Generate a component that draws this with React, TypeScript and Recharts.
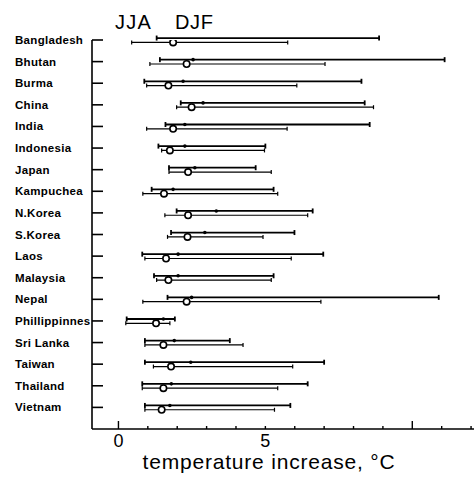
import React from 'react';
import { ScatterChart, Scatter, XAxis, YAxis, ErrorBar } from 'recharts';

const countries = [
  'Bangladesh', 'Bhutan', 'Burma', 'China', 'India', 'Indonesia', 'Japan', 'Kampuchea', 'N.Korea',
  'S.Korea', 'Laos', 'Malaysia', 'Nepal', 'Phillippinnes', 'Sri Lanka', 'Taiwan', 'Thailand', 'Vietnam',
];

// JJA: range and central estimate (upper line of each row)
const jjaLow = [1.3, 1.41, 0.88, 2.12, 1.6, 1.36, 1.72, 1.13, 1.98, 1.79, 0.81, 1.21, 1.67, 0.28, 0.9, 0.9, 0.81, 0.9];
const jjaHigh = [8.87, 11.1, 8.27, 8.38, 8.55, 5.0, 4.67, 5.28, 6.61, 5.99, 6.97, 5.28, 10.9, 1.92, 3.79, 7.0, 6.44, 5.85];
const jjaMid = [2.43, 2.54, 2.2, 2.88, 2.26, 2.26, 2.6, 1.86, 3.33, 2.94, 2.03, 2.03, 2.49, 1.53, 1.9, 2.46, 1.8, 1.75];

// DJF: range and central estimate (lower line, open circle)
const djfLow = [0.45, 1.07, 0.96, 1.98, 0.96, 1.47, 1.72, 0.83, 1.58, 1.67, 0.9, 1.3, 0.83, 0.25, 0.9, 1.19, 0.81, 0.9];
const djfHigh = [5.76, 7.03, 6.07, 8.68, 5.74, 4.97, 5.2, 5.42, 6.44, 4.92, 5.88, 5.2, 6.89, 1.75, 4.24, 5.93, 5.42, 5.31];
const djfMid = [1.86, 2.32, 1.7, 2.49, 1.86, 1.75, 2.37, 1.55, 2.37, 2.35, 1.62, 1.7, 2.32, 1.28, 1.53, 1.79, 1.53, 1.47];

const xTicks = [0, 1, 2, 3, 4, 5, 6, 7, 8, 9, 10, 11, 12];
const xLabelled = [0, 5];
const xMajor = [0, 10];

const FONT = '"Liberation Sans", Arial, sans-serif';

const jjaData = countries.map((name, i) => ({
  name,
  x: jjaMid[i],
  y: i - 0.09,
  err: [jjaMid[i] - jjaLow[i], jjaHigh[i] - jjaMid[i]],
}));

const djfData = countries.map((name, i) => ({
  name,
  x: djfMid[i],
  y: i + 0.11,
  err: [djfMid[i] - djfLow[i], djfHigh[i] - djfMid[i]],
}));

const YTick = (props: any) => {
  const { x, y, payload } = props;
  return (
    <g>
      <line x1={x} x2={x + 11} y1={y} y2={y} stroke="#000" strokeWidth={1.6} />
      <text x={x - 77} y={y} dy="0.35em" fontFamily={FONT} fontWeight={700} fontSize={11.5} letterSpacing={0.3} fill="#000">
        {countries[payload.value]}
      </text>
    </g>
  );
};

const XTick = (props: any) => {
  const { x, y, payload } = props;
  const v = payload.value;
  const len = xMajor.includes(v) ? 8 : 3;
  return (
    <g>
      <line x1={x} x2={x} y1={y} y2={y - len} stroke="#000" strokeWidth={1.4} />
      {xLabelled.includes(v) && (
        <text x={x} y={y + 18} textAnchor="middle" fontFamily={FONT} fontSize={18} fill="#000">
          {v}
        </text>
      )}
    </g>
  );
};

const SmallDot = (props: any) => <circle cx={props.cx} cy={props.cy} r={1.8} fill="#000" />;
const OpenCircle = (props: any) => (
  <circle cx={props.cx} cy={props.cy} r={3.2} fill="#fff" stroke="#000" strokeWidth={1.6} />
);

export default function App() {
  return (
    <div style={{ position: 'absolute', left: 0, top: 0, width: 474, height: 477, background: '#fff' }}>
      <ScatterChart width={474} height={477} margin={{ top: 40, right: 0, bottom: 0, left: 0 }}>
        <XAxis
          type="number"
          dataKey="x"
          domain={[-0.9, 12.1]}
          allowDataOverflow
          ticks={xTicks}
          interval={0}
          height={48}
          tickSize={0}
          tickMargin={0}
          tickLine={false}
          axisLine={{ stroke: '#000', strokeWidth: 1.6 }}
          tick={<XTick />}
        />
        <YAxis
          type="number"
          dataKey="y"
          domain={[0, 18]}
          reversed
          allowDataOverflow
          ticks={countries.map((_, i) => i)}
          interval={0}
          width={92}
          tickSize={0}
          tickMargin={0}
          tickLine={false}
          axisLine={{ stroke: '#000', strokeWidth: 1.6 }}
          tick={<YTick />}
        />
        <Scatter data={jjaData} shape={<SmallDot />} isAnimationActive={false}>
          <ErrorBar dataKey="err" direction="x" width={2.5} stroke="#000" strokeWidth={1.8} isAnimationActive={false} />
        </Scatter>
        <Scatter data={djfData} shape={<OpenCircle />} isAnimationActive={false}>
          <ErrorBar dataKey="err" direction="x" width={2} stroke="#000" strokeWidth={1.2} isAnimationActive={false} />
        </Scatter>
      </ScatterChart>
      <svg width={474} height={477} style={{ position: 'absolute', left: 0, top: 0, pointerEvents: 'none' }}>
        <text x={115} y={29} fontFamily={FONT} fontSize={20} letterSpacing={1.2} fill="#000">JJA</text>
        <text x={175} y={29} fontFamily={FONT} fontSize={20} letterSpacing={0.6} fill="#000">DJF</text>
        <text x={269} y={469} textAnchor="middle" fontFamily={FONT} fontSize={21} letterSpacing={0.8} fill="#000">
          temperature increase, {'\u00b0'}C
        </text>
      </svg>
    </div>
  );
}
